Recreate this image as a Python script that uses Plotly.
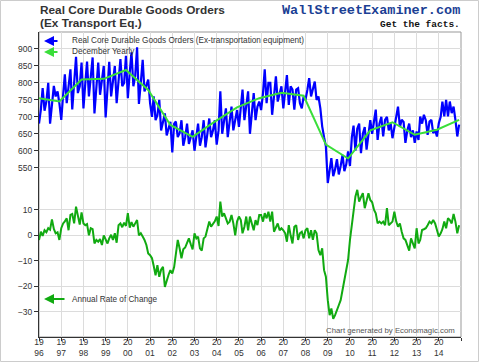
import pandas as pd
import plotly.graph_objects as go

# ---------------- data ----------------
orders_by_year = {
    1996: [680, 722, 785, 718, 745, 800, 680, 745, 791, 760, 775, 740],
    1997: [691, 765, 825, 740, 790, 840, 722, 800, 877, 770, 790, 860],
    1998: [725, 800, 863, 760, 810, 875, 710, 790, 860, 765, 805, 850],
    1999: [698, 790, 862, 760, 800, 850, 740, 810, 870, 790, 800, 880],
    2000: [755, 830, 890, 790, 820, 905, 738, 800, 868, 775, 790, 810],
    2001: [740, 700, 760, 690, 705, 750, 660, 690, 710, 645, 665, 685],
    2002: [595, 680, 686, 640, 652, 690, 615, 640, 680, 620, 640, 660],
    2003: [600, 640, 680, 615, 640, 690, 610, 650, 695, 640, 660, 690],
    2004: [618, 660, 775, 650, 690, 725, 640, 690, 730, 660, 690, 720],
    2005: [670, 740, 780, 690, 730, 775, 650, 720, 770, 690, 730, 745],
    2006: [720, 770, 840, 740, 800, 800, 706, 760, 819, 745, 770, 790],
    2007: [725, 770, 823, 735, 790, 780, 721, 780, 784, 740, 725, 760],
    2008: [750, 780, 814, 760, 780, 804, 750, 760, 725, 672, 640, 613],
    2009: [505, 540, 578, 525, 545, 575, 530, 555, 588, 540, 560, 598],
    2010: [555, 640, 674, 600, 665, 680, 593, 650, 670, 603, 640, 690],
    2011: [650, 681, 721, 632, 680, 700, 642, 691, 700, 660, 681, 637],
    2012: [672, 700, 730, 670, 691, 685, 623, 660, 680, 640, 660, 623],
    2013: [657, 632, 701, 680, 706, 690, 647, 686, 691, 652, 662, 642],
    2014: [681, 700, 745, 701, 750, 701, 745, 711, 730, 691, 642, 677],
}

rate_by_year = {
    1996: [-1.8, 1.4, -0.2, 2.0, 1.2, 2.8, 2.2, 6.3, 2.5, 0.8, 1.2, -1.8],
    1997: [2.8, 4.7, 5.5, 6.7, 2.0, 8.0, 8.4, 4.7, 11.3, 7.4, 4.2, 9.0],
    1998: [4.7, 4.0, 4.4, 0.0, 2.8, 2.4, -3.2, -1.8, -2.5, -1.5, -3.8, 0.0],
    1999: [-1.8, -3.2, -1.2, 0.2, -1.8, 0.8, -2.9, 4.0, 4.7, 3.2, 5.0, 3.7],
    2000: [8.7, 3.0, 5.2, 3.4, 4.7, 6.0, 0.0, 0.8, -0.5, -1.8, -3.8, -7.1],
    2001: [-7.8, -9.0, -12.0, -15.7, -11.7, -16.3, -13.5, -12.4, -20.3, -17.5, -15.5, -13.7],
    2002: [-15.0, -12.4, -7.1, -1.8, -5.1, -9.0, -5.5, -4.8, -3.0, -1.2, -3.5, -5.5],
    2003: [0.8, -1.2, -0.5, -5.1, -6.0, -1.2, -0.5, 2.4, 5.4, 3.4, 4.7, 5.5],
    2004: [7.4, 3.7, 13.3, 7.4, 8.7, 6.3, 4.7, 5.4, 8.0, 4.7, 0.0, 5.4],
    2005: [7.4, 6.0, 0.8, 3.4, 7.4, 2.0, 7.4, 4.7, 2.0, 6.0, 4.0, 8.0],
    2006: [8.0, 5.4, 8.7, 6.7, 9.3, 5.4, 9.3, 1.4, 3.4, 4.7, 2.0, 2.8],
    2007: [2.0, 0.8, -2.5, 4.0, 0.0, -3.2, 3.4, 4.0, -1.8, 0.8, 1.4, -1.2],
    2008: [2.0, 2.8, -1.2, 2.0, -1.8, 2.0, 0.8, -5.8, -7.8, -5.1, -13.7, -16.3],
    2009: [-25.5, -31.4, -28.8, -32.8, -31.4, -29.0, -27.5, -25.5, -21.6, -17.0, -12.4, -9.7],
    2010: [-1.8, 4.7, 10.0, 15.3, 17.9, 13.3, 15.0, 16.6, 10.7, 14.0, 16.6, 13.9],
    2011: [13.0, 10.0, 8.7, 4.7, 5.4, 4.7, 5.4, 4.0, 10.7, 4.0, 4.7, 5.4],
    2012: [9.3, 5.4, 3.4, 4.7, 1.4, -1.2, -1.8, -3.8, -6.0, -1.2, -3.2, -5.1],
    2013: [2.8, -3.2, -1.8, 2.1, 2.4, 2.8, 4.0, 5.4, 4.7, 6.0, 4.7, 2.1],
    2014: [-0.5, 0.8, 2.4, 5.4, 2.8, 6.7, 6.0, 4.7, 8.4, 5.4, 0.8, 4.0],
}

yearly_dates = ["1996-01-01"] + [f"{y}-12-01" for y in range(1996, 2015)]
yearly_values = [755, 745, 810, 812, 838, 779, 676, 641, 686, 728,
                 755, 771, 762, 618, 577, 660, 684, 647, 662, 691]

tick_years = list(range(1996, 2016))
tick_labels = [f"{str(y)[:2]}<br>{str(y)[2:]}" for y in range(1996, 2015)] + [""]

orders = [v for y in sorted(orders_by_year) for v in orders_by_year[y]]
rates = [v for y in sorted(rate_by_year) for v in rate_by_year[y]]
months = pd.date_range("1996-01-01", periods=len(orders), freq="MS")

# ---------------- layout geometry ----------------
W, H = 480, 362
ML, MR, MT, MB = 39, 19, 32, 25
PW, PH = W - ML - MR, H - MT - MB


def px(x):
    return (x - ML) / PW


def py(y):
    return (H - MB - y) / PH


FONT = "Liberation Sans, Arial, sans-serif"
MONO = "Liberation Mono, Courier New, monospace"
GRID = "#dcdcdc"
TICKFONT = dict(family=FONT, size=8.5, color="#333")

fig = go.Figure()
fig.add_trace(go.Scatter(x=months, y=orders, mode="lines",
                         line=dict(color="#0000ff", width=2.2), yaxis="y"))
fig.add_trace(go.Scatter(x=yearly_dates, y=yearly_values, mode="lines",
                         line=dict(color="#3ade3a", width=2), yaxis="y"))
fig.add_trace(go.Scatter(x=months, y=rates, mode="lines",
                         line=dict(color="#11aa11", width=2), yaxis="y2"))

fig.update_layout(
    width=W, height=H,
    margin=dict(l=ML, r=MR, t=MT, b=MB, autoexpand=False),
    paper_bgcolor="white", plot_bgcolor="white",
    showlegend=False,
    font=dict(family=FONT, size=9, color="#333"),
    xaxis=dict(
        type="date", automargin=False,
        range=["1996-01-01", "2015-01-01"],
        tickvals=[f"{y}-01-01" for y in tick_years],
        ticktext=tick_labels,
        ticks="outside", ticklen=3, tickcolor="#333",
        ticklabelstandoff=-6,
        showgrid=True, gridcolor=GRID, gridwidth=1,
        showline=True, linecolor="#333", linewidth=1,
        tickfont=TICKFONT,
        zeroline=False,
    ),
    yaxis=dict(
        automargin=False,
        range=[51, 950],
        tickvals=[550, 600, 650, 700, 750, 800, 850, 900],
        ticks="outside", ticklen=4, tickcolor="#333",
        showgrid=True, gridcolor=GRID,
        showline=True, linecolor="#333", linewidth=1,
        zeroline=False,
        tickfont=TICKFONT,
    ),
    yaxis2=dict(
        automargin=False,
        range=[-40, 80],
        overlaying="y", side="left",
        tickvals=[-30, -20, -10, 0, 10],
        ticks="outside", ticklen=4, tickcolor="#333",
        showgrid=True, gridcolor=GRID,
        showline=False, zeroline=False,
        tickfont=TICKFONT,
    ),
)

# frame top/right and outer border
fig.add_shape(type="rect", xref="paper", yref="paper", x0=0, y0=0, x1=1, y1=1,
              line=dict(color="#999", width=1), layer="below")
fig.add_shape(type="rect", xref="paper", yref="paper",
              x0=px(0.5), y0=py(H - 0.5), x1=px(W - 1.5), y1=py(0.5),
              line=dict(color="#cccccc", width=1))

annotations = []
# titles
annotations.append(dict(x=px(38), y=py(10), xref="paper", yref="paper",
                        xanchor="left", yanchor="middle", showarrow=False,
                        text="<b>Real Core Durable Goods Orders</b>",
                        font=dict(family=FONT, size=11.8, color="#333")))
annotations.append(dict(x=px(38), y=py(23), xref="paper", yref="paper",
                        xanchor="left", yanchor="middle", showarrow=False,
                        text="<b>(Ex Transport Eq.)</b>",
                        font=dict(family=FONT, size=11.8, color="#333")))
annotations.append(dict(x=px(462), y=py(10), xref="paper", yref="paper",
                        xanchor="right", yanchor="middle", showarrow=False,
                        text="<b>WallStreetExaminer.com</b>",
                        font=dict(family=MONO, size=13.5, color="#1c3f94")))
annotations.append(dict(x=px(462), y=py(24), xref="paper", yref="paper",
                        xanchor="right", yanchor="middle", showarrow=False,
                        text="<b>Get the facts.</b>",
                        font=dict(family=MONO, size=9.5, color="#111")))
annotations.append(dict(x=px(457), y=py(330), xref="paper", yref="paper",
                        xanchor="right", yanchor="middle", showarrow=False,
                        text="Chart generated by Economagic.com",
                        font=dict(family=FONT, size=7.8, color="#555")))

# legend-like labels with arrows
legend_items = [
    ("Real Core Durable Goods Orders (Ex-transportation equipment)", "#0000ff", 41, 15),
    ("December Yearly", "#3ade3a", 52, 15),
    ("Annual Rate of Change", "#11aa11", 299, 22),
]
for label, color, yy, length in legend_items:
    annotations.append(dict(x=px(44), y=py(yy), xref="paper", yref="paper",
                            ax=length, ay=0, text="", showarrow=True,
                            arrowhead=2, arrowsize=1, arrowwidth=2,
                            arrowcolor=color))
    annotations.append(dict(x=px(70), y=py(yy), xref="paper", yref="paper",
                            xanchor="left", yanchor="middle", showarrow=False,
                            text=label, font=dict(family=FONT, size=8.2, color="#333")))

fig.update_layout(annotations=annotations)

fig.write_html("out.html", config={"displayModeBar": False},
               post_script="document.body.style.margin='0';")
